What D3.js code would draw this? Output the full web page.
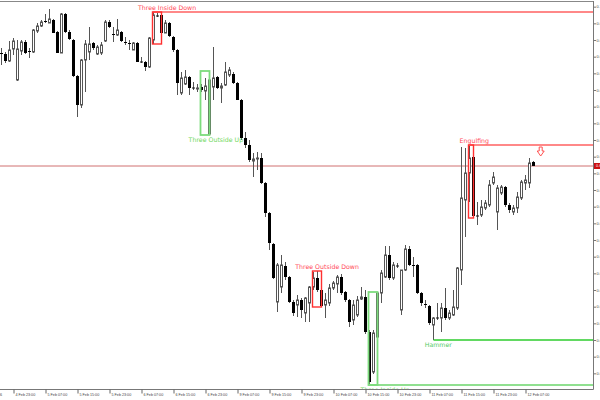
<!DOCTYPE html>
<html><head><meta charset="utf-8">
<script src="https://cdn.jsdelivr.net/npm/d3@7"></script>
<style>html,body{margin:0;padding:0;background:#fff;overflow:hidden}</style>
</head><body><svg id="c" width="600" height="400"></svg>
<script>
const openP=[0.69861,0.69858,0.69837,0.69873,0.69780,0.69867,0.69894,0.69867,0.69864,0.69927,
0.69942,0.69957,0.69951,0.69960,0.69924,0.69861,0.69978,0.69924,0.69900,0.69792,
0.69705,0.69840,0.69864,0.69891,0.69858,0.69861,0.69897,0.69954,0.69918,0.69915,
0.69924,0.69894,0.69891,0.69870,0.69891,0.69834,0.69834,0.69819,0.69900,0.69972,
0.69975,0.69921,0.69951,0.69909,0.69870,0.69741,0.69768,0.69789,0.69756,0.69753,
0.69759,0.69747,0.69618,0.69759,0.69789,0.69756,0.69765,0.69795,0.69798,0.69771,
0.69720,0.69606,0.69585,0.69537,0.69543,0.69546,0.69471,0.69381,0.69288,0.69114,
0.69159,0.69222,0.69189,0.69114,0.69105,0.69120,0.69081,0.69111,0.69159,0.69186,
0.69150,0.69105,0.69111,0.69156,0.69168,0.69189,0.69144,0.69120,0.69060,0.69075,
0.69123,0.69129,0.69024,0.68904,0.69009,0.69141,0.69189,0.69255,0.69186,0.69222,
0.69090,0.69210,0.69273,0.69225,0.69225,0.69141,0.69108,0.69102,0.69045,0.69066,
0.69066,0.69096,0.69066,0.69075,0.69096,0.69210,0.69420,0.69501,0.69549,0.69372,
0.69375,0.69396,0.69405,0.69471,0.69384,0.69441,0.69459,0.69405,0.69384,0.69396,
0.69426,0.69471,0.69471,0.69534];
const highP=[0.69876,0.69864,0.69897,0.69906,0.69900,0.69900,0.69900,0.69876,0.69933,0.69951,
0.69960,0.69978,0.69993,0.69963,0.69927,0.69981,0.69981,0.69930,0.69903,0.69795,
0.69843,0.69900,0.69939,0.69894,0.69885,0.69894,0.69960,0.69960,0.69939,0.69963,
0.69927,0.69909,0.69900,0.69894,0.69894,0.69849,0.69837,0.69909,0.69984,0.69981,
0.69978,0.69960,0.69954,0.69912,0.69873,0.69804,0.69810,0.69792,0.69774,0.69768,
0.69768,0.69786,0.69807,0.69879,0.69792,0.69771,0.69834,0.69819,0.69804,0.69774,
0.69723,0.69624,0.69600,0.69561,0.69564,0.69561,0.69474,0.69384,0.69291,0.69231,
0.69255,0.69234,0.69192,0.69120,0.69135,0.69126,0.69129,0.69162,0.69204,0.69207,
0.69153,0.69141,0.69168,0.69177,0.69195,0.69198,0.69147,0.69123,0.69120,0.69132,
0.69159,0.69150,0.69030,0.69030,0.69144,0.69210,0.69282,0.69282,0.69234,0.69231,
0.69210,0.69285,0.69282,0.69249,0.69228,0.69144,0.69120,0.69105,0.69069,0.69111,
0.69111,0.69156,0.69090,0.69150,0.69219,0.69579,0.69576,0.69582,0.69585,0.69414,
0.69420,0.69420,0.69480,0.69504,0.69465,0.69465,0.69462,0.69411,0.69405,0.69444,
0.69480,0.69495,0.69546,0.69537];
const lowP=[0.69825,0.69831,0.69834,0.69855,0.69777,0.69855,0.69858,0.69846,0.69861,0.69921,
0.69939,0.69951,0.69951,0.69921,0.69861,0.69861,0.69921,0.69900,0.69789,0.69669,
0.69696,0.69744,0.69840,0.69870,0.69855,0.69855,0.69894,0.69936,0.69894,0.69912,
0.69894,0.69885,0.69870,0.69870,0.69834,0.69831,0.69807,0.69816,0.69888,0.69969,
0.69921,0.69921,0.69909,0.69864,0.69735,0.69735,0.69765,0.69735,0.69750,0.69744,
0.69744,0.69720,0.69615,0.69720,0.69753,0.69711,0.69762,0.69789,0.69768,0.69720,
0.69600,0.69576,0.69534,0.69489,0.69510,0.69468,0.69369,0.69270,0.69183,0.69084,
0.69141,0.69180,0.69111,0.69072,0.69069,0.69066,0.69054,0.69054,0.69150,0.69144,
0.69099,0.69066,0.69102,0.69150,0.69141,0.69135,0.69114,0.69039,0.69045,0.69069,
0.69120,0.69018,0.68865,0.68898,0.69006,0.69111,0.69186,0.69180,0.69180,0.69216,
0.69075,0.69207,0.69222,0.69189,0.69138,0.69102,0.69096,0.69045,0.69000,0.69060,
0.69024,0.69060,0.69060,0.69072,0.69090,0.69165,0.69309,0.69414,0.69366,0.69345,
0.69369,0.69390,0.69399,0.69465,0.69330,0.69435,0.69399,0.69381,0.69375,0.69381,
0.69420,0.69450,0.69456,0.69522];
const closeP=[0.69858,0.69837,0.69870,0.69897,0.69873,0.69894,0.69861,0.69864,0.69930,0.69942,
0.69954,0.69954,0.69963,0.69921,0.69861,0.69978,0.69924,0.69903,0.69792,0.69705,
0.69840,0.69888,0.69888,0.69876,0.69879,0.69885,0.69954,0.69939,0.69915,0.69930,
0.69897,0.69891,0.69888,0.69891,0.69834,0.69834,0.69819,0.69906,0.69975,0.69972,
0.69921,0.69951,0.69912,0.69870,0.69771,0.69786,0.69789,0.69756,0.69756,0.69756,
0.69750,0.69762,0.69780,0.69786,0.69756,0.69762,0.69804,0.69810,0.69771,0.69720,
0.69606,0.69585,0.69540,0.69543,0.69546,0.69471,0.69381,0.69291,0.69186,0.69225,
0.69225,0.69189,0.69114,0.69081,0.69120,0.69090,0.69126,0.69159,0.69186,0.69150,
0.69102,0.69120,0.69156,0.69171,0.69189,0.69141,0.69120,0.69054,0.69105,0.69120,
0.69129,0.69024,0.68874,0.69021,0.69141,0.69201,0.69255,0.69186,0.69225,0.69222,
0.69210,0.69273,0.69225,0.69222,0.69141,0.69111,0.69105,0.69051,0.69066,0.69066,
0.69096,0.69066,0.69081,0.69099,0.69216,0.69426,0.69501,0.69546,0.69372,0.69372,
0.69399,0.69411,0.69465,0.69489,0.69456,0.69459,0.69405,0.69390,0.69396,0.69429,
0.69474,0.69480,0.69531,0.69522];

const timeLabels=["4 Feb 2026","4 Feb 23:00","5 Feb 07:00","5 Feb 15:00","5 Feb 23:00","6 Feb 07:00","6 Feb 15:00","6 Feb 23:00","9 Feb 07:00","9 Feb 15:00","9 Feb 23:00","10 Feb 07:00","10 Feb 15:00","10 Feb 23:00","11 Feb 07:00","11 Feb 15:00","11 Feb 23:00","12 Feb 07:00"];
const timeLabelBar=[-5,3,11,19,27,35,43,51,59,67,75,83,91,99,107,115,123,131];
const priceTicks=[0.6890,0.6895,0.6900,0.6905,0.6910,0.6915,0.6920,0.6925,0.6930,0.6935,0.6940,0.6945,0.6950,0.6955,0.6960,0.6965,0.6970,0.6975,0.6980,0.6985,0.6990,0.6995,0.7000];

const patternNames=["Three Inside Down","Three Outside Up","Three Outside Down","Three Inside Up","Engulfing","Hammer"];
const patternKind=["bear","bull","bear","bull","bear","bull"];
const patternStart=[38,50,78,92,117,108];
const patternEnd=[40,52,80,94,118,108];
const patternLabelBar=[41.4,53.6,81.4,95.9,118.2,109.2];
const patternHasLevel=[true,false,false,true,true,true];
const sellSignal={bar:134.8,price:0.69579};

const W=600,H=400,plotR=593,plotB=389;
const n=openP.length;
const svg=d3.select("#c");
svg.append("rect").attr("width",W).attr("height",H).attr("fill","#fff");

const x=d3.scaleLinear().domain([0,n-1]).range([1.5,1.5+4*(n-1)]);
const y=d3.scaleLinear().domain([0.68853,0.70020]).range([plotB,0]);

svg.append("defs").append("clipPath").attr("id","plot").append("rect").attr("x",0).attr("y",0).attr("width",plotR).attr("height",plotB);
const g=svg.append("g").attr("clip-path","url(#plot)");

// current price line
const last=closeP[n-1];
g.append("line").attr("x1",0).attr("x2",plotR).attr("y1",y(last)).attr("y2",y(last)).attr("stroke","#d07070").attr("stroke-width",1);

// candles
const idx=d3.range(n);
g.selectAll("line.wick").data(idx).join("line").attr("class","wick")
 .attr("x1",i=>x(i)).attr("x2",i=>x(i)).attr("y1",i=>y(highP[i])).attr("y2",i=>y(lowP[i]))
 .attr("stroke","#555").attr("stroke-width",1);
const doji=i=>Math.abs(openP[i]-closeP[i])<0.00002;
g.selectAll("rect.bull").data(idx.filter(i=>closeP[i]>openP[i]&&!doji(i))).join("rect").attr("class","bull")
 .attr("x",i=>x(i)-1).attr("width",2).attr("y",i=>y(closeP[i])).attr("height",i=>y(openP[i])-y(closeP[i]))
 .attr("fill","#fff").attr("stroke","#555").attr("stroke-width",1);
g.selectAll("rect.bear").data(idx.filter(i=>closeP[i]<openP[i]&&!doji(i))).join("rect").attr("class","bear")
 .attr("x",i=>x(i)-1.5).attr("width",3).attr("y",i=>y(openP[i])).attr("height",i=>y(closeP[i])-y(openP[i]))
 .attr("fill","#000");
g.selectAll("line.doji").data(idx.filter(doji)).join("line").attr("class","doji")
 .attr("x1",i=>x(i)-1.5).attr("x2",i=>x(i)+1.5).attr("y1",i=>y(openP[i])).attr("y2",i=>y(openP[i]))
 .attr("stroke","#111").attr("stroke-width",1);

// patterns
patternNames.forEach((name,p)=>{
  const s=patternStart[p], e=patternEnd[p];
  const hi=d3.max(d3.range(s,e+1),i=>highP[i]);
  const lo=d3.min(d3.range(s,e+1),i=>lowP[i]);
  const bear=patternKind[p]==="bear";
  const level=bear?hi:lo;
  if(name==="Hammer"){
    g.append("line").attr("x1",x(s)).attr("x2",plotR).attr("y1",y(level)).attr("y2",y(level)).attr("stroke","#2ecc2e").attr("stroke-width",1.3);
  } else {
    if(patternHasLevel[p]){
      g.append("line").attr("x1",x(s)-1).attr("x2",plotR).attr("y1",y(level)).attr("y2",y(level))
        .attr("stroke",bear?"#ff6060":"#90e090").attr("stroke-width",name==="Three Inside Up"?2:1.6);
    }
    g.append("rect").attr("x",x(s)-1).attr("y",y(hi)).attr("width",x(e)-x(s)+1).attr("height",y(lo)-y(hi))
      .attr("fill","none").attr("stroke",bear?"#ff3030":"#7ddc7d").attr("stroke-width",bear?1.4:1.8);
  }
  g.append("text").attr("x",x(patternLabelBar[p])).attr("y",bear?y(level)-2:y(level)+6.5)
   .attr("text-anchor","middle").attr("font-family","DejaVu Sans").attr("font-size",6.25)
   .attr("fill",bear?"#ff4a5a":(name==="Hammer"?"#55cc66":"#70d860")).text(name);
});

// sell arrow
{
  const cx=x(sellSignal.bar), t=y(sellSignal.price);
  const pts=[[cx-1.5,t],[cx+1.5,t],[cx+1.5,t+4],[cx+3.5,t+4],[cx,t+9],[cx-3.5,t+4],[cx-1.5,t+4]];
  g.append("path").attr("d","M"+pts.map(p=>p.join(",")).join("L")+"Z").attr("fill","#fff").attr("stroke","#ff5050").attr("stroke-width",1);
}

// frame
svg.append("line").attr("x1",0).attr("x2",plotR).attr("y1",1.5).attr("y2",1.5).attr("stroke","#888");
svg.append("line").attr("x1",0).attr("x2",plotR+0.5).attr("y1",plotB+0.5).attr("y2",plotB+0.5).attr("stroke","#777");
svg.append("line").attr("x1",plotR+0.5).attr("x2",plotR+0.5).attr("y1",1).attr("y2",plotB+0.5).attr("stroke","#777");

// right axis
const ya=svg.append("g").attr("transform",`translate(${plotR+0.5},0)`)
 .call(d3.axisRight(y).tickValues(priceTicks).tickSize(2.5).tickSizeOuter(0).tickFormat(d3.format(".4f")));
ya.select(".domain").remove();
ya.selectAll("line").attr("stroke","#777");
ya.selectAll("text").attr("x",3).attr("font-family","Liberation Sans").attr("font-size",3.8).attr("fill","#444");

// current price label
svg.append("rect").attr("x",plotR+1).attr("y",y(last)-3).attr("width",10).attr("height",6).attr("fill","#cc1010");
svg.append("text").attr("x",plotR+3).attr("y",y(last)).attr("dy","0.35em").attr("font-family","Liberation Sans").attr("font-size",3.8).attr("fill","#fff").text(d3.format(".4f")(last));

// bottom axis
const xa=svg.append("g").attr("transform",`translate(0,${plotB+0.5})`)
 .call(d3.axisBottom(x).tickValues(timeLabelBar).tickSize(4).tickSizeOuter(0).tickFormat((d,i)=>timeLabels[i]));
xa.select(".domain").remove();
xa.selectAll("line").attr("stroke","#666");
xa.selectAll("text").attr("x",1.5).attr("y",6.5).attr("dy",0).attr("text-anchor","start")
 .attr("font-family","Liberation Sans").attr("font-size",3.7).attr("fill","#444");
</script></body></html>
